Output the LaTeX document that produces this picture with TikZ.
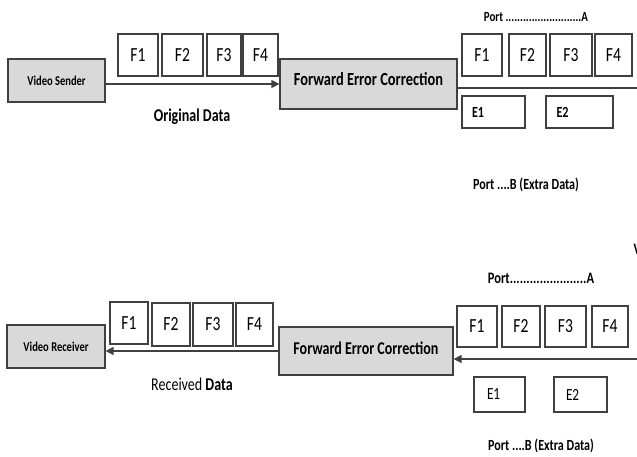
\documentclass[tikz,border=0pt]{standalone}
\usepackage{fontspec}
\setmainfont{Carlito}[FakeStretch=0.78]
\usetikzlibrary{arrows.meta}
\definecolor{boxgray}{HTML}{D9D9D9}
\definecolor{edge}{HTML}{404040}
\newcommand{\fsz}[1]{\fontsize{#1}{#1}\selectfont}
\tikzset{
  x=1pt, y=-1pt,
  graybox/.style={draw=edge, line width=1.2pt, fill=boxgray, inner sep=0pt},
  framebox/.style={draw=edge, line width=1.1pt, fill=white, inner sep=0pt, font=\fsz{20}},
  ebox/.style={draw=edge, line width=1.1pt, fill=white, inner sep=0pt, text width=#1, align=left},
  conn/.style={draw=edge, line width=1.3pt},
  arr/.style={conn, -{Triangle[length=8pt,width=8pt]}},
}
\begin{document}
\begin{tikzpicture}
\useasboundingbox (0,0) rectangle (637,456);
% ---------- top ----------
\node[graybox, minimum width=97, minimum height=43, font=\bfseries\fsz{13.5}] (vs) at (56.5,80.5) {Video Sender};
\node[framebox, minimum width=40, minimum height=42] (t1) at (138,55) {F1};
\node[framebox, minimum width=41, minimum height=42] (t2) at (182.5,55) {F2};
\node[framebox, minimum width=34, minimum height=42] (t3) at (224,55) {F3};
\node[framebox, minimum width=35, minimum height=42] (t4) at (260.5,55) {F4};
\node[graybox, minimum width=177, minimum height=50,
  label={[yshift=5pt, font=\bfseries\fsz{18.5}]center:Forward Error Correction}] (fec1) at (368.5,84) {};
\draw[arr] (vs.east |- fec1.west) -- (fec1.west);
\node[font=\bfseries\fsz{18}] (od) at (192,117) {Original Data};
\node[font=\bfseries\fsz{14}] (pa1) at (536,17) {Port ..........................A};
\node[framebox, minimum width=40, minimum height=42] (a1) at (482,55) {F1};
\node[framebox, minimum width=37, minimum height=42] (a2) at (527.5,55) {F2};
\node[framebox, minimum width=42, minimum height=42] (a3) at (571,55) {F3};
\node[framebox, minimum width=37, minimum height=42] (a4) at (613.5,55) {F4};
\coordinate (endA) at (640,88);
\draw[conn] (fec1.east |- endA) -- (endA);
\node[ebox=43pt, minimum height=32, inner xsep=10pt, font=\bfseries\fsz{15.5}] (e1) at (493.5,112) {E1};
\node[ebox=46pt, minimum height=32, inner xsep=10.5pt, font=\bfseries\fsz{15.5}] (e2) at (579.5,112) {E2};
\node[font=\bfseries\fsz{15.5}] (pb1) at (526,185) {Port ....B (Extra Data)};
% ---------- bottom ----------
\node[font=\bfseries\fsz{16}, anchor=west] (vcut) at (630,249) {V};
\node[graybox, minimum width=98, minimum height=43, font=\bfseries\fsz{13.5}] (vr) at (56,346.5) {Video Receiver};
\node[framebox, minimum width=38, minimum height=42] (b1) at (129,323) {F1};
\node[framebox, minimum width=38, minimum height=43] (b2) at (171,324.5) {F2};
\node[framebox, minimum width=40, minimum height=43] (b3) at (213,324.5) {F3};
\node[framebox, minimum width=37, minimum height=43] (b4) at (254.5,324.5) {F4};
\node[graybox, minimum width=174, minimum height=48,
  label={[yshift=3pt, font=\bfseries\fsz{18}]center:Forward Error Correction}] (fec2) at (366,351) {};
\draw[arr] (fec2.west) -- (vr.east |- fec2.west);
\node[font=\fsz{18}] (rd) at (192,384) {Received \textbf{Data}};
\node[font=\bfseries\fsz{16}] (pa2) at (541,278) {Port.......................A};
\node[framebox, minimum width=40, minimum height=41] (c1) at (477,326.5) {F1};
\node[framebox, minimum width=38, minimum height=41] (c2) at (521,326.5) {F2};
\node[framebox, minimum width=41, minimum height=41] (c3) at (565.5,326.5) {F3};
\node[framebox, minimum width=36, minimum height=41] (c4) at (610,326.5) {F4};
\coordinate (startA) at (640,359);
\draw[arr] (startA) -- (fec2.east |- startA);
\node[ebox=25pt, minimum height=35, inner xsep=13pt, font=\fsz{17}] (f1) at (499.5,394.5) {E1};
\node[ebox=29pt, minimum height=35, inner xsep=12pt, font=\fsz{17}] (f2) at (580.5,394.5) {E2};
\node[font=\bfseries\fsz{15.5}] (pb2) at (541,445.5) {Port ....B (Extra Data)};
\end{tikzpicture}
\end{document}
